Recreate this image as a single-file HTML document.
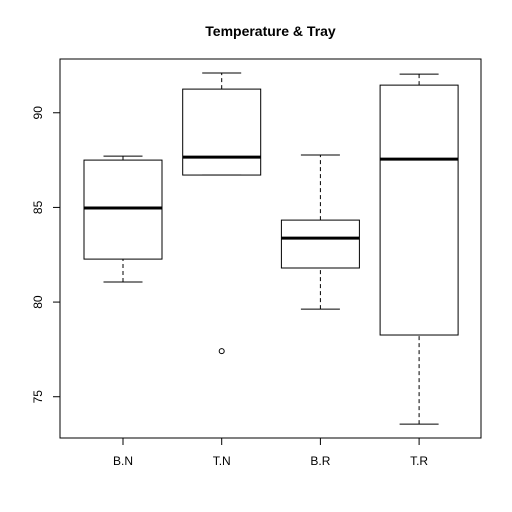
<!DOCTYPE html>
<html><head><meta charset="utf-8"><style>
body{margin:0;background:#fff}
svg{display:block}
text{font-family:"Liberation Sans",Arial,sans-serif;fill:#000}
</style></head><body>
<svg id="chart" width="512" height="512" viewBox="0 0 512 512">
<text x="270.5" y="36" text-anchor="middle" font-size="14" font-weight="bold">Temperature &amp; Tray</text>
<rect x="60" y="59" width="421" height="379" fill="none" stroke="#000"/>
<g id="g"></g>
</svg>
<script>
const categories=["B.N","T.N","B.R","T.R"];
const whiskerLow=[81.06,86.71,79.63,73.55];
const q1=[82.27,86.71,81.8,78.26];
const medians=[84.97,87.66,83.38,87.55];
const q3=[87.5,91.25,84.33,91.46];
const whiskerHigh=[87.71,92.1,87.77,92.04];
const outliers=[[],[77.41],[],[]];
const yTicks=[75,80,85,90];

const g=document.getElementById('g');
const NS='http://www.w3.org/2000/svg';
const yMin=72.82,yMax=92.84,plotTop=59,plotBot=438;
function y(v){return plotBot-(v-yMin)/(yMax-yMin)*(plotBot-plotTop);}
function xc(i){return 123+i*98.7;}
function el(t,a,name){const e=document.createElementNS(NS,t);for(const k in a)e.setAttribute(k,a[k]);


g.appendChild(e);return e;}
const hw=39,cw=19.5;
categories.forEach((c,i)=>{
  const cx=xc(i);
  el('line',{x1:cx,x2:cx,y1:y(whiskerLow[i]),y2:y(q1[i]),stroke:'#000','stroke-dasharray':'4,3'},'whisker-low-'+c);
  el('line',{x1:cx,x2:cx,y1:y(q3[i]),y2:y(whiskerHigh[i]),stroke:'#000','stroke-dasharray':'4,3'},'whisker-high-'+c);
  el('line',{x1:cx-cw,x2:cx+cw,y1:y(whiskerLow[i]),y2:y(whiskerLow[i]),stroke:'#000'},'cap-low-'+c);
  el('line',{x1:cx-cw,x2:cx+cw,y1:y(whiskerHigh[i]),y2:y(whiskerHigh[i]),stroke:'#000'},'cap-high-'+c);
  el('rect',{x:cx-hw,y:y(q3[i]),width:2*hw,height:y(q1[i])-y(q3[i]),fill:'none',stroke:'#000'},'box-'+c);
  el('line',{x1:cx-hw,x2:cx+hw,y1:y(medians[i]),y2:y(medians[i]),stroke:'#000','stroke-width':3},'median-'+c);
  outliers[i].forEach(v=>el('circle',{cx:cx,cy:y(v),r:2.5,fill:'none',stroke:'#000'},'outlier-'+c));
  el('line',{x1:cx,x2:cx,y1:438,y2:445,stroke:'#000'},'x-tick-'+c);
  const t=el('text',{x:cx,y:465,'text-anchor':'middle','font-size':12},'x-label-'+c);t.textContent=c;
});
el('line',{x1:123,x2:xc(3),y1:438,y2:438,stroke:'#000'},'x-axis-line');
el('line',{x1:60,x2:60,y1:y(75),y2:y(90),stroke:'#000'},'y-axis-line');
yTicks.forEach(v=>{
  el('line',{x1:53,x2:60,y1:y(v),y2:y(v),stroke:'#000'},'y-tick-'+v);
  const t=el('text',{x:42,y:y(v),'text-anchor':'middle','font-size':12,transform:`rotate(-90 42 ${y(v)})`},'y-label-'+v);t.textContent=v;
});
</script>
</body></html>
